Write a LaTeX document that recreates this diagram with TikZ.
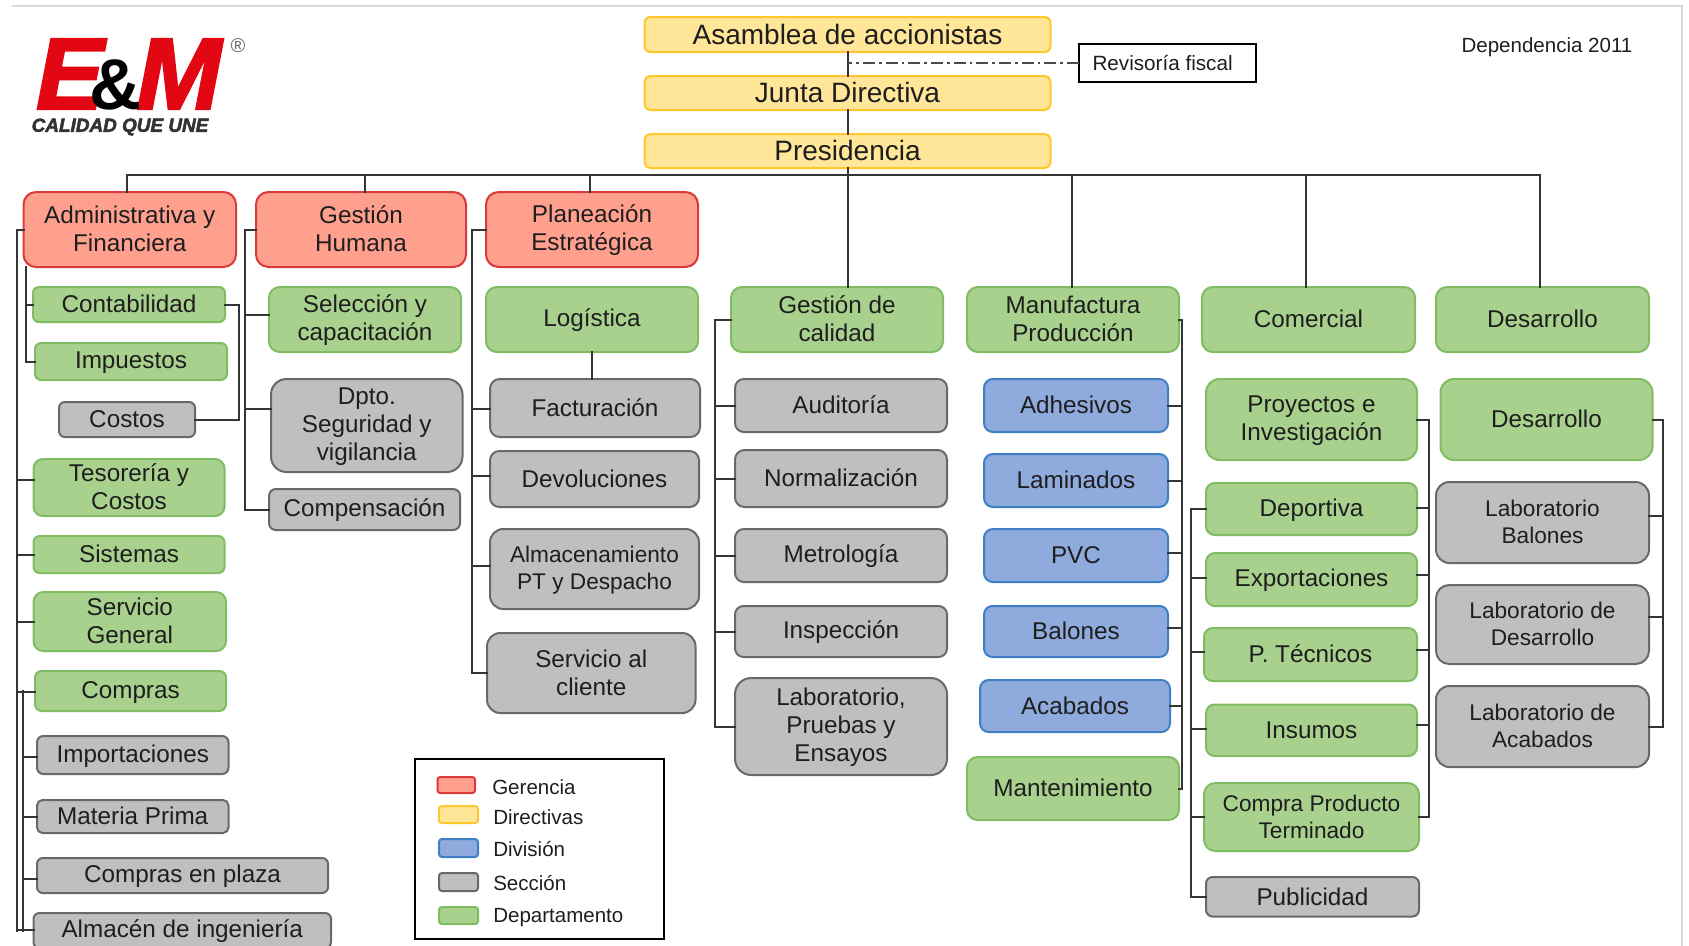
\documentclass[tikz,border=0pt]{standalone}
\usepackage{fontspec}
\setmainfont[BoldItalicFeatures={FakeBold=2.5}]{Liberation Sans}
\usetikzlibrary{calc}
\definecolor{redF}{HTML}{FF9F8E}\definecolor{redD}{HTML}{D93A3A}
\definecolor{yelF}{HTML}{FFE699}\definecolor{yelD}{HTML}{FFC72C}
\definecolor{grnF}{HTML}{A9D18E}\definecolor{grnD}{HTML}{7FBC62}
\definecolor{bluF}{HTML}{8FAADC}\definecolor{bluD}{HTML}{3F80C4}
\definecolor{gryF}{HTML}{BFBFBF}\definecolor{gryD}{HTML}{696969}
\definecolor{ink}{HTML}{1E1E1E}\definecolor{logoRed}{HTML}{E30613}
\tikzset{
  boxbase/.style={draw,line width=1.5pt,inner sep=0pt,outer sep=0pt,align=center,text=ink,font=\fontsize{18.2}{21}\selectfont},
  gerencia/.style={boxbase,fill=redF,draw=redD},
  directiva/.style={boxbase,fill=yelF,draw=yelD,font=\fontsize{21}{24}\selectfont},
  division/.style={boxbase,fill=bluF,draw=bluD},
  seccion/.style={boxbase,fill=gryF,draw=gryD},
  depto/.style={boxbase,fill=grnF,draw=grnD},
  small/.style={font=\fontsize{17}{20}\selectfont},
  conn/.style={draw=ink!90,line width=1.5pt,line cap=rect},
  frameline/.style={draw=black!15,line width=1.5pt},
  legendtext/.style={inner sep=0pt,anchor=west,text=ink,font=\fontsize{15.4}{17}\selectfont},
}
% name, x1, y1, x2, y2, style, text
\newcommand{\bx}[7]{%
  \pgfmathsetmacro\bxw{#4-#2}\pgfmathsetmacro\bxh{#5-#3}%
  \pgfmathsetmacro\bxr{min(\bxw,\bxh)*0.125}%
  \node[#6,minimum width=\bxw*0.75pt,minimum height=\bxh*0.75pt,rounded corners=\bxr pt]
    (#1) at ({(#2+#4)/2},{(#3+#5)/2}) {\rule{0pt}{0.82em}#7\rule[-0.13em]{0pt}{0.13em}};}
% legend swatch: name, x1, y1, x2, y2, style
\newcommand{\swatch}[6]{%
  \pgfmathsetmacro\bxw{#4-#2}\pgfmathsetmacro\bxh{#5-#3}%
  \pgfmathsetmacro\bxr{min(\bxw,\bxh)*0.125}%
  \node[#6,minimum width=\bxw*0.75pt,minimum height=\bxh*0.75pt,rounded corners=\bxr pt]
    (#1) at ({(#2+#4)/2},{(#3+#5)/2}) {};}
% [dy]{bus}{node}{anchor}
\newcommand{\hook}[4][0]{\coordinate (tmp) at ($(#3.#4)+(0,#1)$);\draw[conn] (#2|-tmp) -- (tmp);}
\begin{document}
\begin{tikzpicture}[x=0.75pt,y=-0.75pt]
\useasboundingbox (0,0) rectangle (1689,946);
% frame
\coordinate (fa) at (12,6);\coordinate (fb) at (1682,6);\coordinate (fc) at (1682,946);
\draw[frameline] (fa) -- (fb) -- (fc);
% logo
\node[inner sep=0pt,text=logoRed,font=\fontsize{76}{76}\selectfont\bfseries\itshape] (logoE) at (70,74) {E};
\node[inner sep=0pt,text=logoRed,font=\fontsize{76}{76}\selectfont\bfseries\itshape] (logoM) at (179,74) {M};
\node[inner sep=0pt,text=black,font=\fontsize{54}{54}\selectfont\bfseries] (logoA) at (115,85) {\&};
\node[inner sep=0pt,text=black!60,font=\fontsize{15}{15}\selectfont] (logoR) at (238,46) {®};
\node[inner sep=0pt,text=black!80,font=\fontsize{14.2}{16}\selectfont\bfseries\itshape] (logoT) at (120,127) {CALIDAD QUE UNE};
% top
\bx{asm}{644.5}{17}{1050.5}{52}{directiva}{Asamblea de accionistas}
\bx{junta}{644.5}{76}{1050.5}{110}{directiva}{Junta Directiva}
\bx{pres}{644.5}{134}{1050.5}{168}{directiva}{Presidencia}
\node[draw=black,line width=1.5pt,inner sep=0pt,outer sep=0pt,minimum width=176.5*0.75pt,minimum height=38*0.75pt,text=ink,font=\fontsize{15.5}{18}\selectfont] (rev) at (1167.25,63) {Revisoría fiscal\hspace*{7pt}};
\node[inner sep=0pt,text=ink,font=\fontsize{15.4}{18}\selectfont] (dep) at (1547,47) {Dependencia 2011};
% gerencias
\bx{admin}{23.5}{192}{236}{267}{gerencia}{Administrativa y\\Financiera}
\bx{gh}{256}{192}{466}{267}{gerencia}{Gestión\\Humana}
\bx{plan}{486}{192}{698}{267}{gerencia}{Planeación\\Estratégica}
% column 1
\bx{contab}{33}{287}{225}{322}{depto}{Contabilidad}
\bx{imp}{35}{343}{227}{380}{depto}{Impuestos}
\bx{costos}{59}{402}{195}{437}{seccion}{Costos}
\bx{tes}{33.5}{459}{224.5}{516}{depto}{Tesorería y\\Costos}
\bx{sis}{33.5}{536}{224.5}{573}{depto}{Sistemas}
\bx{serv}{33.5}{592}{226}{651}{depto}{Servicio\\General}
\bx{comp}{35}{671}{226}{711}{depto}{Compras}
\bx{impo}{37}{736}{228.5}{774}{seccion}{Importaciones}
\bx{mat}{37}{800}{228.5}{833}{seccion}{Materia Prima}
\bx{plaza}{37}{858}{328}{893}{seccion}{Compras en plaza}
\bx{alm}{33.5}{913}{331}{948}{seccion}{Almacén de ingeniería}
% column 2
\bx{sel}{269}{287}{461}{352}{depto}{Selección y\\capacitación}
\bx{dpto}{271}{379}{462.5}{472}{seccion}{Dpto.\\Seguridad y\\vigilancia}
\bx{compen}{269}{489}{460}{530}{seccion}{Compensación}
% column 3
\bx{log}{486}{287}{698}{352}{depto}{Logística}
\bx{fac}{490}{379}{700}{437}{seccion}{Facturación}
\bx{dev}{490}{451}{699}{507}{seccion}{Devoluciones}
\bx{almpt}{490}{529}{699}{609}{seccion,small}{Almacenamiento\\PT y Despacho}
\bx{cli}{487}{633}{695.5}{713}{seccion}{Servicio al\\cliente}
% column 4
\bx{gc}{731}{287}{943}{352}{depto}{Gestión de\\calidad}
\bx{aud}{735}{379}{947}{432}{seccion}{Auditoría}
\bx{nor}{735}{450}{947}{507}{seccion}{Normalización}
\bx{met}{735}{529}{947}{582}{seccion}{Metrología}
\bx{ins}{735}{606}{947}{657}{seccion}{Inspección}
\bx{lab}{735}{678}{947}{775}{seccion}{Laboratorio,\\Pruebas y\\Ensayos}
% column 5
\bx{man}{967}{287}{1179}{352}{depto}{Manufactura\\Producción}
\bx{adh}{984}{379}{1168}{432}{division}{Adhesivos}
\bx{lam}{984}{454}{1168}{507}{division}{Laminados}
\bx{pvc}{984}{529}{1168}{582}{division}{PVC}
\bx{bal}{984}{606}{1168}{657}{division}{Balones}
\bx{aca}{980}{680}{1170}{732}{division}{Acabados}
\bx{mant}{967}{757}{1179}{820}{depto}{Mantenimiento}
% column 6
\bx{com}{1202}{287}{1415}{352}{depto}{Comercial}
\bx{pro}{1206}{379}{1417}{460}{depto}{Proyectos e\\Investigación}
\bx{depo}{1206}{483}{1417}{535}{depto}{Deportiva}
\bx{exp}{1206}{553}{1417}{606}{depto}{Exportaciones}
\bx{tec}{1204}{628}{1417}{681}{depto}{P. Técnicos}
\bx{insu}{1206}{704.5}{1417}{756}{depto}{Insumos}
\bx{cpt}{1204}{783}{1419}{851}{depto,small}{Compra Producto\\Terminado}
\bx{pub}{1206}{877}{1419}{916.5}{seccion}{Publicidad}
% column 7
\bx{des}{1436}{287}{1649}{352}{depto}{Desarrollo}
\bx{des2}{1440.5}{379}{1652.5}{460}{depto}{Desarrollo}
\bx{lb}{1436}{482}{1649}{563}{seccion,small}{Laboratorio\\Balones}
\bx{ld}{1436}{585}{1649}{664}{seccion,small}{Laboratorio de\\Desarrollo}
\bx{la}{1436}{686}{1649}{767}{seccion,small}{Laboratorio de\\Acabados}
% legend
\node[draw=black,line width=1.5pt,inner sep=0pt,outer sep=0pt,minimum width=249*0.75pt,minimum height=180*0.75pt] (legend) at (539.5,849) {};
\swatch{s1}{437.5}{777}{475}{793}{gerencia}
\swatch{s2}{439}{806}{478}{823}{directiva}
\swatch{s3}{439}{839}{478}{857}{division}
\swatch{s4}{439}{873}{478}{891}{seccion}
\swatch{s5}{439}{907}{478}{924}{depto}
\node[legendtext] (l1) at (492,787) {Gerencia};
\node[legendtext] (l2) at (493,817) {Directivas};
\node[legendtext] (l3) at (493,849) {División};
\node[legendtext] (l4) at (493,883) {Sección};
\node[legendtext] (l5) at (493,918) {Departamento};
% trunk
\draw[conn] (asm.south) -- (junta.north);
\draw[conn] (junta.south) -- (pres.north);
\draw[conn] (pres.south) -- (pres.south|-gc.north);
\draw[draw=ink!80,line width=1.4pt,dash pattern=on 9pt off 3pt on 2pt off 3pt] (rev.west) -- (rev.west-|asm.south);
% top bus
\coordinate (busT) at (0,175);
\coordinate (t1) at ($(admin.north)+(-2.75,0)$);
\coordinate (t2) at ($(gh.north)+(4,0)$);
\coordinate (t3) at ($(plan.north)+(-2,0)$);
\coordinate (t5) at ($(man.north)+(-1,0)$);
\coordinate (t6) at ($(com.north)+(-3,0)$);
\coordinate (t7) at ($(des.north)+(-3,0)$);
\draw[conn] (t1) -- (t1|-busT) -- (t7|-busT) -- (t7);
\draw[conn] (t2|-busT) -- (t2);
\draw[conn] (t3|-busT) -- (t3);
\draw[conn] (t5|-busT) -- (t5);
\draw[conn] (t6|-busT) -- (t6);
% admin buses
\coordinate (busA) at (16.5,0);\coordinate (busB) at (26,0);\coordinate (busC) at (238.5,0);\coordinate (busD) at (23,0);
\draw[conn] (admin.west) -- (busA|-admin.west) -- (busA|-alm.west);
\hook[-0.5]{busA}{alm}{west}
\hook[-7.5]{busA}{tes}{west}
\hook{busA}{sis}{west}
\hook[0.5]{busA}{serv}{west}
\hook[1]{busA}{comp}{west}
\draw[conn] (busB|-admin.south) -- (busB|-imp.west) -- (imp.west);
\hook{busB}{contab}{west}
\draw[conn] (contab.east) -- (busC|-contab.east) -- (busC|-costos.east) -- (costos.east);
\draw[conn] (busD|-comp.west) -- (busD|-alm.west);
\hook[2]{busD}{impo}{west}
\hook{busD}{mat}{west}
\hook[3.5]{busD}{plaza}{west}
% gh
\coordinate (busG) at (245,0);
\draw[conn] (gh.west) -- (busG|-gh.west) -- (busG|-compen.west) -- (compen.west);
\hook[-4.5]{busG}{sel}{west}
\hook[-16.5]{busG}{dpto}{west}
% plan
\coordinate (busP) at (471.5,0);
\draw[conn] (plan.west) -- (busP|-plan.west) -- (busP|-cli.west) -- (cli.west);
\hook[1]{busP}{fac}{west}
\hook[-3]{busP}{dev}{west}
\hook[-3]{busP}{almpt}{west}
\draw[conn] (log.south) -- (log.south|-fac.north);
% gc
\coordinate (busQ) at (715,0);
\draw[conn] (gc.west) -- (busQ|-gc.west) -- (busQ|-lab.west) -- (lab.west);
\hook{busQ}{aud}{west}
\hook{busQ}{nor}{west}
\hook{busQ}{met}{west}
\hook{busQ}{ins}{west}
% manufactura
\coordinate (busM) at (1182,0);
\draw[conn] (man.east) -- (busM|-man.east) -- (busM|-mant.east) -- (mant.east);
\hook{busM}{adh}{east}
\hook{busM}{lam}{east}
\hook[-2.5]{busM}{pvc}{east}
\hook[-3.5]{busM}{bal}{east}
\hook{busM}{aca}{east}
% comercial right
\coordinate (busR) at (1428.5,0);
\draw[conn] (pro.east) -- (busR|-pro.east) -- (busR|-cpt.east) -- (cpt.east);
\hook[-1]{busR}{depo}{east}
\hook[-4.5]{busR}{exp}{east}
\hook[-4.5]{busR}{tec}{east}
\hook[-5]{busR}{insu}{east}
% comercial left
\coordinate (busL) at (1191,0);
\draw[conn] (depo.west) -- (busL|-depo.west) -- (busL|-pub.west) -- (pub.west);
\hook[-1.5]{busL}{exp}{west}
\hook[-2.5]{busL}{tec}{west}
\hook[-1]{busL}{insu}{west}
\hook{busL}{cpt}{west}
% desarrollo right
\coordinate (busS) at (1663,0);
\draw[conn] (des2.east) -- (busS|-des2.east) -- (busS|-la.east) -- (la.east);
\hook[-6.5]{busS}{lb}{east}
\hook[-7.5]{busS}{ld}{east}
\end{tikzpicture}
\end{document}
